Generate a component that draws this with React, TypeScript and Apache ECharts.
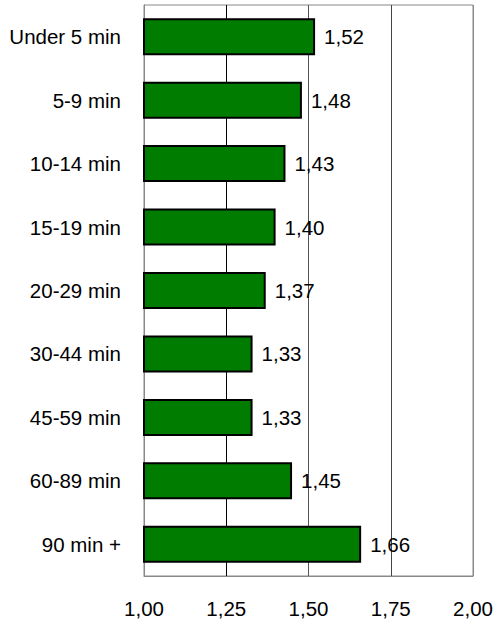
import React, { useEffect, useRef } from "react";
import * as echarts from "echarts";

const categories = [
  "Under 5 min",
  "5-9 min",
  "10-14 min",
  "15-19 min",
  "20-29 min",
  "30-44 min",
  "45-59 min",
  "60-89 min",
  "90 min +",
];
const values = [1.52, 1.48, 1.43, 1.4, 1.37, 1.33, 1.33, 1.45, 1.66];

const FONT = "'Liberation Sans', Arial, sans-serif";
const fmt = (v: number) => v.toFixed(2).replace(".", ",");

export default function App() {
  const ref = useRef<HTMLDivElement>(null);
  useEffect(() => {
    if (!ref.current) return;
    const chart = echarts.init(ref.current, null, { renderer: "svg" });
    chart.setOption({
      animation: false,
      backgroundColor: "#fff",
      grid: {
        left: 144,
        right: 22,
        top: 5,
        bottom: 46,
        show: true,
        borderColor: "#888",
        borderWidth: 1,
        containLabel: false,
        outerBoundsMode: "none",
      },
      xAxis: {
        type: "value",
        min: 1,
        max: 2,
        interval: 0.25,
        axisLine: { show: true, lineStyle: { color: "#888" } },
        axisTick: { show: false },
        axisLabel: {
          formatter: (v: number) => fmt(v),
          color: "#000",
          fontFamily: FONT,
          fontSize: 20.5,
          margin: 22,
        },
        splitLine: {
          show: true,
          lineStyle: { color: ["#888", "#000", "#555", "#444", "#888"], width: 1 },
        },
      },
      yAxis: {
        type: "category",
        data: categories,
        inverse: true,
        axisLine: { show: true, lineStyle: { color: "#888" } },
        axisTick: { show: false },
        axisLabel: {
          color: "#000",
          fontFamily: FONT,
          fontSize: 20.5,
          margin: 23,
        },
        splitLine: { show: false },
      },
      series: [
        {
          type: "bar",
          data: values,
          barWidth: 37,
          itemStyle: { color: "#007d00", borderColor: "#000", borderWidth: 2 },
          label: {
            show: true,
            position: "right",
            distance: 9,
            color: "#000",
            fontFamily: FONT,
            fontSize: 20.5,
            formatter: (p: any) => fmt(p.value),
          },
        },
      ],
    });
    return () => chart.dispose();
  }, []);
  return <div ref={ref} style={{ width: 495, height: 622, position: "absolute", left: 0, top: 0 }} />;
}
